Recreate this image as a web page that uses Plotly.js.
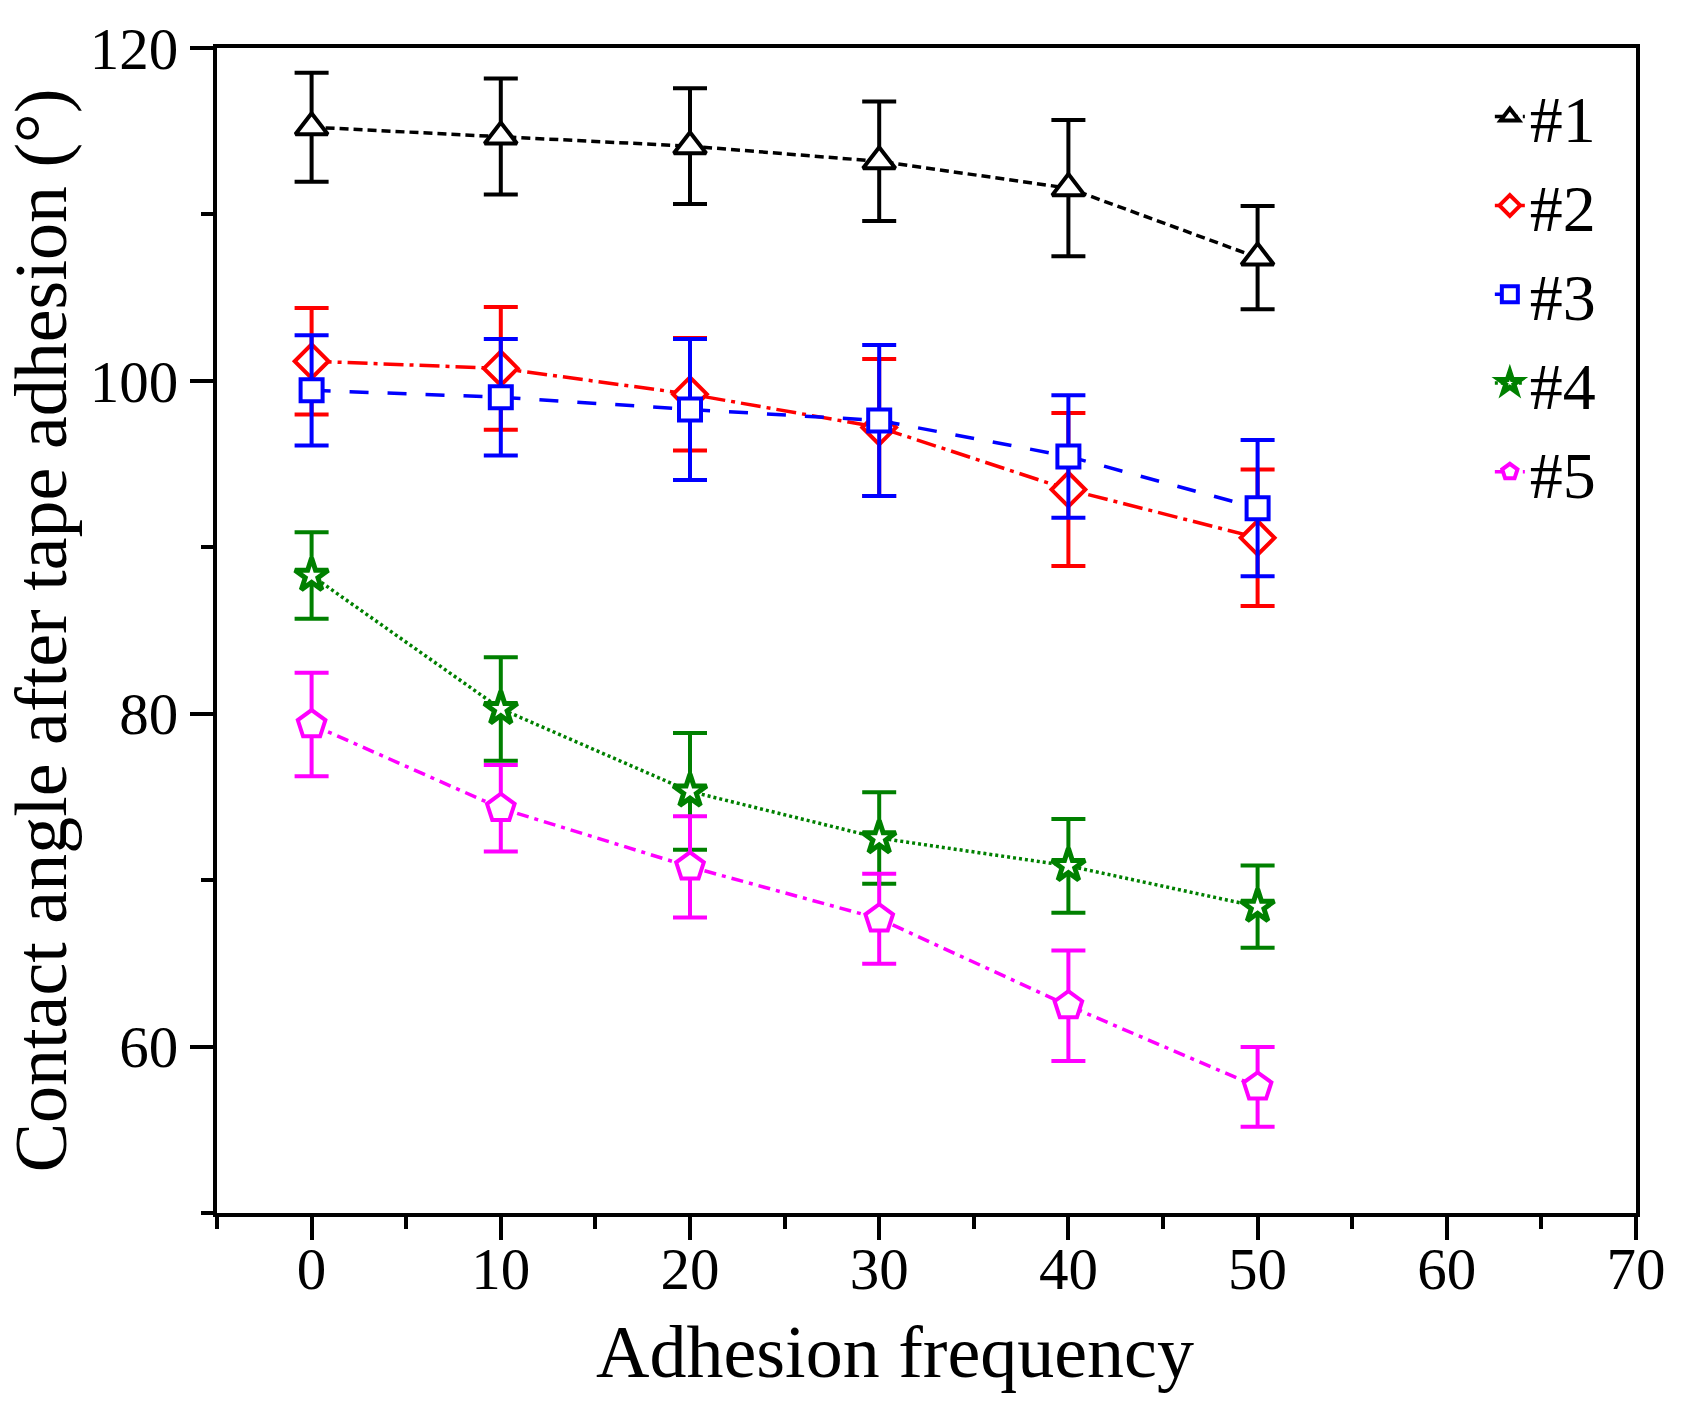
<!DOCTYPE html>
<html>
<head>
<meta charset="utf-8">
<script src="https://cdn.plot.ly/plotly-3.0.1.min.js"></script>
<style>html,body{margin:0;padding:0;background:#fff;}#chart{width:1689px;height:1411px;}</style>
</head>
<body>
<div id="chart"></div>
<script>
// Adhesion frequency (x) and contact angle after tape adhesion (deg)
const frequency = [0, 10, 20, 30, 40, 50];
const seriesNames = ["#1", "#2", "#3", "#4", "#5"];
const angle1 = [115.24, 114.68, 114.10, 113.19, 111.58, 107.41];
const err1   = [3.28, 3.48, 3.48, 3.59, 4.10, 3.10];
const angle2 = [101.18, 100.75, 99.20, 97.20, 93.47, 90.57];
const err2   = [3.20, 3.69, 3.38, 4.12, 4.60, 4.10];
const angle3 = [99.43, 99.02, 98.28, 97.62, 95.46, 92.35];
const err3   = [3.31, 3.50, 4.24, 4.54, 3.68, 4.09];
const angle4 = [88.30, 80.29, 75.33, 72.53, 70.86, 68.41];
const err4   = [2.60, 3.11, 3.51, 2.75, 2.82, 2.47];
const angle5 = [79.35, 74.32, 70.80, 67.68, 62.46, 57.58];
const err5   = [3.11, 2.60, 3.04, 2.70, 3.32, 2.40];
const xTickVals = [0, 10, 20, 30, 40, 50, 60, 70];
const yTickVals = [60, 80, 100, 120];
const xTitle = 'Adhesion frequency';
const yTitle = 'Contact angle after tape adhesion (°)';

const FONT = 'Liberation Serif';

const styles = [
  {color: '#000000', dash: '9px,5px',          symbol: 'triangle-up', size: 28, lw: 4},
  {color: '#ff0000', dash: '20px,6px,4px,6px', symbol: 'diamond',     size: 26, lw: 4},
  {color: '#0000ff', dash: '19px,19px',        symbol: 'square',      size: 22, lw: 4},
  {color: '#008000', dash: '3px,3px',          symbol: 'star',        size: 25, lw: 5},
  {color: '#ff00ff', dash: '12px,6px,4px,6px', symbol: 'pentagon',    size: 29, lw: 4}
];
const ys = [angle1, angle2, angle3, angle4, angle5];
const es = [err1, err2, err3, err4, err5];

const traces = ys.map((y, i) => ({
  type: 'scatter',
  mode: 'lines+markers',
  name: seriesNames[i],
  x: frequency,
  y: y,
  error_y: {type: 'data', array: es[i], visible: true, color: styles[i].color, thickness: 4, width: 17},
  line: {color: styles[i].color, width: 3.5, dash: styles[i].dash},
  marker: {symbol: styles[i].symbol, size: styles[i].size, color: '#ffffff',
           line: {color: styles[i].color, width: styles[i].lw}}
}));

const axisCommon = {
  showline: true, linecolor: '#000', linewidth: 4, mirror: true,
  showgrid: false, zeroline: false,
  ticks: 'outside', ticklen: 23, tickwidth: 4, tickcolor: '#000',
  tickfont: {family: FONT, size: 59, color: '#000'}
};

const layout = {
  width: 1689, height: 1411,
  margin: {l: 217, r: 53, t: 48, b: 198},
  paper_bgcolor: '#fff', plot_bgcolor: '#fff',
  font: {family: FONT, color: '#000'},
  showlegend: true,
  legend: {x: 0.897, y: 0.9835, xanchor: 'left', yanchor: 'top',
           font: {family: FONT, size: 66, color: '#000'},
           bgcolor: 'rgba(0,0,0,0)', borderwidth: 0, tracegroupgap: 0},
  xaxis: Object.assign({}, axisCommon, {
    range: [-5, 70], tickmode: 'array', tickvals: xTickVals,
    ticklabelstandoff: -22,
    minor: {tickmode: 'linear', tick0: -5, dtick: 10, ticks: 'outside', ticklen: 12, tickwidth: 4, tickcolor: '#000'}
  }),
  yaxis: Object.assign({}, axisCommon, {
    range: [50, 120], tickmode: 'array', tickvals: yTickVals,
    minor: {tickmode: 'linear', tick0: 50, dtick: 20, ticks: 'outside', ticklen: 12, tickwidth: 4, tickcolor: '#000'},
    title: {text: yTitle, font: {family: FONT, size: 74, color: '#000'}, standoff: 14}
  }),
  annotations: [{
    text: xTitle, xref: 'paper', yref: 'paper', x: 0.478, y: -0.119,
    xanchor: 'center', yanchor: 'middle', showarrow: false,
    font: {family: FONT, size: 74, color: '#000'}
  }]
};

Plotly.newPlot('chart', traces, layout, {displayModeBar: false, staticPlot: true});
</script>
</body>
</html>
